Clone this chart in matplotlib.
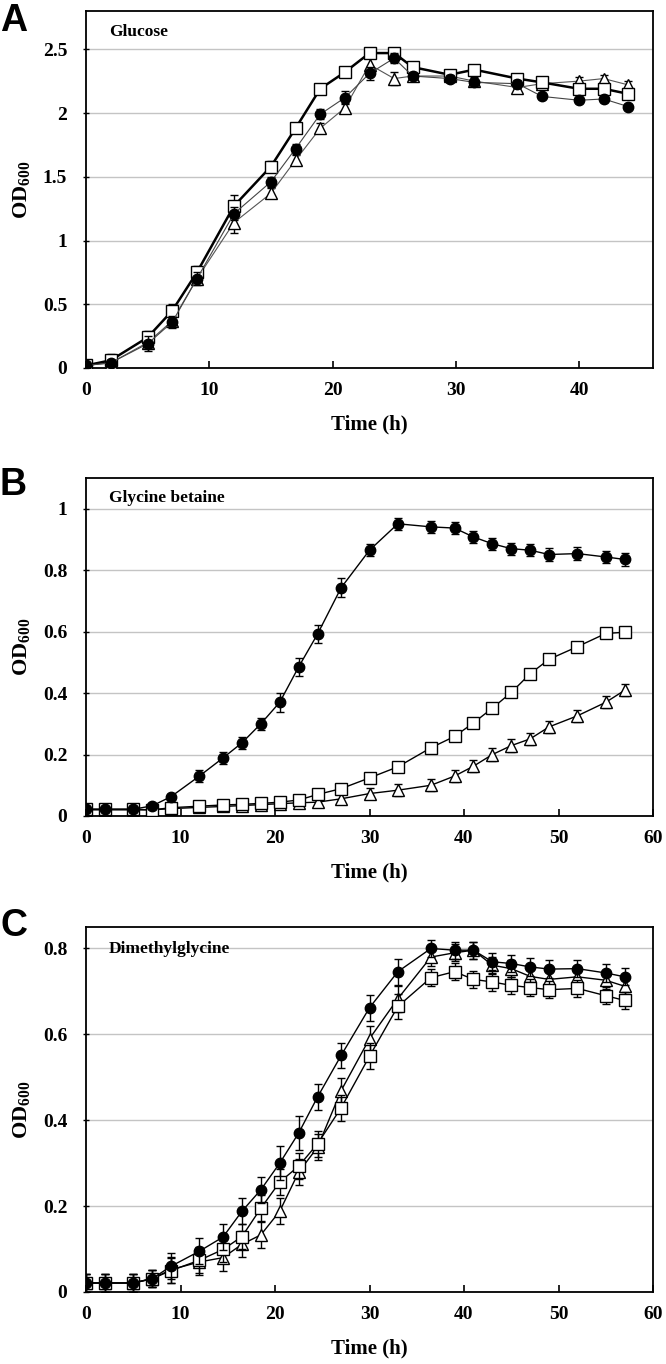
import matplotlib
matplotlib.use("Agg")
import matplotlib.pyplot as plt
import numpy as np

plt.rcParams['font.family'] = ['Liberation Serif', 'DejaVu Serif']
plt.rcParams['font.weight'] = 'bold'
plt.rcParams['mathtext.fontset'] = 'custom'
plt.rcParams['mathtext.rm'] = 'Liberation Serif:bold'
plt.rcParams['mathtext.bf'] = 'Liberation Serif:bold'
plt.rcParams['mathtext.default'] = 'rm'

# ---------------- Panel A: Glucose ----------------
time_a = [0, 2, 5, 7, 9, 12, 15, 17, 19, 21, 23, 25, 26.5, 29.5, 31.5, 35, 37, 40, 42, 44]
a_square = [0.02, 0.06, 0.24, 0.45, 0.75, 1.27, 1.58, 1.88, 2.19, 2.32, 2.47, 2.47, 2.36, 2.30, 2.34, 2.27, 2.24, 2.19, 2.19, 2.15]
a_square_err = [0.01, 0.05, 0.05, 0.05, 0.05, 0.09, 0.04, 0.03, 0.03, 0.04, 0.04, 0.04, 0.03, 0.03, 0.03, 0.03, 0.03, 0.03, 0.03, 0.03]
a_circle = [0.02, 0.04, 0.19, 0.36, 0.70, 1.21, 1.46, 1.72, 1.99, 2.12, 2.31, 2.43, 2.29, 2.27, 2.24, 2.23, 2.13, 2.10, 2.11, 2.05]
a_circle_err = [0.01, 0.02, 0.06, 0.05, 0.05, 0.05, 0.04, 0.04, 0.04, 0.05, 0.05, 0.04, 0.03, 0.03, 0.03, 0.03, 0.02, 0.02, 0.02, 0.02]
a_triangle = [0.02, 0.04, 0.20, 0.37, 0.70, 1.14, 1.37, 1.63, 1.88, 2.04, 2.38, 2.27, 2.29, 2.29, 2.25, 2.20, 2.23, 2.25, 2.27, 2.22]
a_triangle_err = [0.01, 0.02, 0.04, 0.04, 0.04, 0.08, 0.04, 0.04, 0.04, 0.04, 0.05, 0.05, 0.03, 0.03, 0.03, 0.03, 0.03, 0.03, 0.03, 0.03]

# ---------------- Panel B: Glycine betaine ----------------
time_bc = [0, 2, 5, 7, 9, 12, 14.5, 16.5, 18.5, 20.5, 22.5, 24.5, 27, 30, 33, 36.5, 39, 41, 43, 45, 47, 49, 52, 55, 57]
b_circle = [0.022, 0.022, 0.022, 0.033, 0.063, 0.13, 0.189, 0.238, 0.30, 0.37, 0.485, 0.592, 0.743, 0.865, 0.951, 0.941, 0.937, 0.908, 0.886, 0.870, 0.865, 0.851, 0.854, 0.843, 0.835]
b_circle_err = [0.01, 0.01, 0.01, 0.01, 0.01, 0.02, 0.02, 0.02, 0.02, 0.03, 0.03, 0.03, 0.03, 0.02, 0.02, 0.02, 0.02, 0.02, 0.02, 0.02, 0.02, 0.02, 0.02, 0.02, 0.02]
b_square = [0.022, 0.022, 0.022, 0.020, 0.027, 0.032, 0.036, 0.038, 0.041, 0.045, 0.052, 0.070, 0.089, 0.124, 0.160, 0.222, 0.259, 0.303, 0.351, 0.402, 0.463, 0.510, 0.551, 0.594, 0.598]
b_square_err = [0.01, 0.01, 0.01, 0.01, 0.01, 0.01, 0.01, 0.01, 0.01, 0.01, 0.012, 0.012, 0.012, 0.015, 0.015, 0.015, 0.015, 0.015, 0.015, 0.015, 0.015, 0.015, 0.015, 0.015, 0.015]
b_triangle = [0.020, 0.020, 0.020, 0.020, 0.024, 0.028, 0.031, 0.034, 0.037, 0.040, 0.043, 0.045, 0.056, 0.073, 0.084, 0.100, 0.130, 0.162, 0.200, 0.229, 0.251, 0.290, 0.326, 0.370, 0.409]
b_triangle_err = [0.01, 0.01, 0.01, 0.01, 0.01, 0.01, 0.01, 0.01, 0.01, 0.01, 0.012, 0.015, 0.015, 0.018, 0.02, 0.02, 0.02, 0.02, 0.02, 0.02, 0.02, 0.02, 0.02, 0.02, 0.02]

# ---------------- Panel C: Dimethylglycine ----------------
c_circle = [0.021, 0.021, 0.021, 0.031, 0.060, 0.095, 0.128, 0.188, 0.238, 0.300, 0.370, 0.454, 0.551, 0.662, 0.746, 0.800, 0.796, 0.796, 0.769, 0.765, 0.757, 0.752, 0.753, 0.743, 0.734]
c_circle_err = [0.02, 0.02, 0.02, 0.02, 0.03, 0.03, 0.03, 0.03, 0.03, 0.04, 0.04, 0.03, 0.03, 0.03, 0.03, 0.02, 0.02, 0.02, 0.02, 0.02, 0.02, 0.02, 0.02, 0.02, 0.02]
c_square = [0.021, 0.021, 0.021, 0.031, 0.050, 0.074, 0.099, 0.129, 0.195, 0.256, 0.293, 0.345, 0.429, 0.549, 0.665, 0.732, 0.746, 0.728, 0.722, 0.714, 0.709, 0.704, 0.707, 0.690, 0.679]
c_square_err = [0.02, 0.02, 0.02, 0.02, 0.03, 0.03, 0.03, 0.03, 0.03, 0.03, 0.03, 0.03, 0.03, 0.03, 0.03, 0.02, 0.02, 0.02, 0.02, 0.02, 0.02, 0.02, 0.02, 0.02, 0.02]
c_triangle = [0.021, 0.021, 0.021, 0.031, 0.052, 0.070, 0.080, 0.111, 0.133, 0.188, 0.279, 0.337, 0.469, 0.590, 0.683, 0.780, 0.790, 0.796, 0.761, 0.753, 0.735, 0.728, 0.734, 0.726, 0.712]
c_triangle_err = [0.02, 0.02, 0.02, 0.02, 0.03, 0.03, 0.03, 0.03, 0.03, 0.03, 0.03, 0.03, 0.03, 0.03, 0.03, 0.02, 0.02, 0.02, 0.02, 0.02, 0.02, 0.02, 0.02, 0.02, 0.02]

panel_titles = ['Glucose', 'Glycine betaine', 'Dimethylglycine']
panel_letters = ['A', 'B', 'C']
ylims = [2.8, 1.1, 0.85]
yticks = [[0, 0.5, 1, 1.5, 2, 2.5], [0, 0.2, 0.4, 0.6, 0.8, 1], [0, 0.2, 0.4, 0.6, 0.8]]
ytick_labels = [['0', '0.5', '1', '1.5', '2', '2.5'], ['0', '0.2', '0.4', '0.6', '0.8', '1'], ['0', '0.2', '0.4', '0.6', '0.8']]
xlims = [46, 60, 60]
xticks = [[0, 10, 20, 30, 40], [0, 10, 20, 30, 40, 50, 60], [0, 10, 20, 30, 40, 50, 60]]

fig = plt.figure(figsize=(6.66, 13.64), dpi=100)
W, H = 666, 1364
boxes = [(86, 653, 11, 368), (86, 653, 478, 816), (86, 653, 927, 1292)]
letter_tops = [3, 467, 908]

def draw_series(ax, t, y, e, marker, face, lw, lcolor, ms, z):
    ax.errorbar(t, y, yerr=e, fmt='none', ecolor='black', elinewidth=1.0,
                capsize=2.6, capthick=1.0, zorder=z)
    ax.plot(t, y, '-', color=lcolor, lw=lw, zorder=z + 0.1)
    ax.plot(t, y, linestyle='none', marker=marker, markerfacecolor=face,
            markeredgecolor='black', markeredgewidth=1.0, markersize=ms, zorder=z + 0.2)

axes = []
for i, (l, r, tp, bt) in enumerate(boxes):
    ax = fig.add_axes([l / W, 1 - bt / H, (r - l) / W, (bt - tp) / H])
    axes.append(ax)
    ax.set_xlim(0, xlims[i])
    ax.set_ylim(0, ylims[i])
    ax.set_xticks(xticks[i])
    ax.set_xticklabels([str(v) for v in xticks[i]])
    ax.set_yticks(yticks[i])
    ax.set_yticklabels(ytick_labels[i])
    ax.grid(axis='y', color='#c4c4c4', lw=1.0, zorder=0)
    ax.set_axisbelow(True)
    for s in ax.spines.values():
        s.set_linewidth(1.3)
        s.set_color('black')
    ax.tick_params(axis='x', direction='in', length=5, width=1.2, pad=10, labelsize=14)
    ax.tick_params(axis='y', direction='inout', length=5, width=1.0, pad=11, labelsize=14)
    for lab in ax.get_xticklabels() + ax.get_yticklabels():
        lab.set_fontweight('bold')
    ax.set_xlabel('Time (h)', fontsize=15, fontweight='bold', labelpad=11)
    ax.set_ylabel(r'OD$_{600}$', fontsize=16, fontweight='bold', labelpad=8)
    ax.text(0.04, 0.93, panel_titles[i], transform=ax.transAxes, fontsize=12.5,
            fontweight='bold', ha='left', va='baseline')
    fig.text(0.0, 1 - letter_tops[i] / H, panel_letters[i], fontsize=27, fontweight='bold',
             family=['Liberation Sans', 'DejaVu Sans'], ha='left', va='top')

axA, axB, axC = axes
draw_series(axA, time_a, a_triangle, a_triangle_err, '^', 'white', 0.8, '#555555', 8, 3)
draw_series(axA, time_a, a_square, a_square_err, 's', 'white', 1.8, 'black', 8, 4)
draw_series(axA, time_a, a_circle, a_circle_err, 'o', 'black', 0.8, '#444444', 7.5, 5)

draw_series(axB, time_bc, b_triangle, b_triangle_err, '^', 'white', 1.0, 'black', 8, 3)
draw_series(axB, time_bc, b_square, b_square_err, 's', 'white', 1.0, 'black', 8, 4)
draw_series(axB, time_bc, b_circle, b_circle_err, 'o', 'black', 1.0, 'black', 7.5, 5)

draw_series(axC, time_bc, c_triangle, c_triangle_err, '^', 'white', 1.0, 'black', 8, 3)
draw_series(axC, time_bc, c_square, c_square_err, 's', 'white', 1.0, 'black', 8, 4)
draw_series(axC, time_bc, c_circle, c_circle_err, 'o', 'black', 1.0, 'black', 7.5, 5)

fig.savefig('out.png', dpi=100)
